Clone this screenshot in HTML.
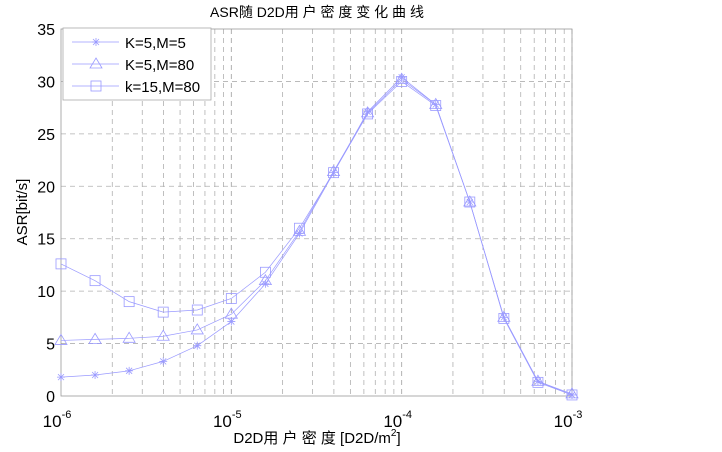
<!DOCTYPE html><html><head><meta charset="utf-8"><style>body{margin:0;background:#fff}svg{display:block}</style></head><body>
<svg id="s" width="722" height="452" xmlns="http://www.w3.org/2000/svg" font-family="Liberation Sans, Noto Sans CJK SC, sans-serif"></svg>
<script>
const s=document.getElementById('s');let h='';
const L=61,R=572,T=29,B=396,dw=(R-L)/3;
const X=e=>L+(e+6)*dw, Y=v=>B-(v/35)*(B-T);
for(let d=0;d<3;d++)for(let m=1;m<=10;m++){if(m==1&&d==0)continue;const x=X(d-6+Math.log10(m));h+=`<line x1="${x}" y1="${T}" x2="${x}" y2="${B}" stroke="#b0b0b0" stroke-width="0.8" stroke-dasharray="5,4"/>`;}
for(let v=5;v<35;v+=5)h+=`<line x1="${L}" y1="${Y(v)}" x2="${R}" y2="${Y(v)}" stroke="#b0b0b0" stroke-width="0.8" stroke-dasharray="5,4"/>`;
h+=`<rect x="${L}" y="${T}" width="${R-L}" height="${B-T}" fill="none" stroke="#999" stroke-width="0.8"/>`;
for(let v=0;v<=35;v+=5)h+=`<text x="${L-6}" y="${Y(v)+6}" font-size="16" text-anchor="end">${v}</text>`;
[-6,-5,-4,-3].forEach(e=>h+=`<text x="${X(e)-4}" y="${B+31}" font-size="17" text-anchor="middle">10<tspan dy="-9" font-size="11">${e}</tspan></text>`);
h+=`<text x="317" y="17" font-size="14" text-anchor="middle">ASR随 D2D用 户 密 度 变 化 曲 线</text>`;
h+=`<text x="317" y="443" font-size="15" text-anchor="middle">D2D用 户 密 度 [D2D/m<tspan dy="-7" font-size="10">2</tspan><tspan dy="7">]</tspan></text>`;
h+=`<text transform="translate(27,212) rotate(-90)" font-size="15" text-anchor="middle">ASR[bit/s]</text>`;
const D=[[1.8,2.0,2.4,3.3,4.8,7.1,10.7,15.5,21.3,27.1,30.4,27.8,18.5,7.5,1.4,0.1],
[5.3,5.4,5.5,5.7,6.3,7.8,11,15.7,21.4,27,30.2,27.8,18.5,7.5,1.4,0.2],
[12.6,11,9,8,8.2,9.3,11.8,16,21.3,26.9,30,27.7,18.5,7.4,1.3,0.1]];
const C='#9a9aff';
function mk(t,x,y){if(t==0)return `<path d="M${x-4} ${y}H${x+4}M${x} ${y-4}V${y+4}M${x-3} ${y-3}L${x+3} ${y+3}M${x-3} ${y+3}L${x+3} ${y-3}" stroke="${C}" stroke-width="0.8"/>`;
if(t==1)return `<path d="M${x} ${y-6}L${x+6} ${y+4}H${x-6}Z" fill="none" stroke="${C}" stroke-width="0.8"/>`;
return `<rect x="${x-5}" y="${y-5}" width="10" height="10" fill="none" stroke="${C}" stroke-width="0.8"/>`;}
D.forEach((a,t)=>{const p=a.map((v,i)=>[X(-6+i*0.2),Y(v)]);h+=`<polyline points="${p.map(q=>q.join(',')).join(' ')}" fill="none" stroke="${C}" stroke-width="0.7"/>`;p.forEach(q=>h+=mk(t,q[0],q[1]));});
h+=`<rect x="63" y="28" width="148" height="72" fill="#fff" stroke="#aaa" stroke-width="0.8"/>`;
['K=5,M=5','K=5,M=80','k=15,M=80'].forEach((n,i)=>{const y=42+i*22;h+=`<line x1="72" y1="${y}" x2="119" y2="${y}" stroke="${C}" stroke-width="0.7"/>`+mk(i,96,y)+`<text x="125" y="${y+6}" font-size="15">${n}</text>`;});
s.innerHTML=h;
</script></body></html>
